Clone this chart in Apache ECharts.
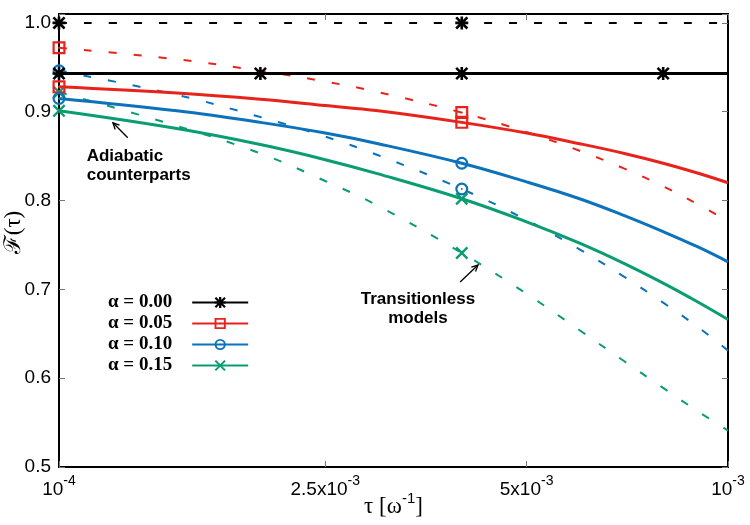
<!DOCTYPE html>
<html>
<head>
<meta charset="utf-8">
<script src="https://cdn.jsdelivr.net/npm/echarts@6/dist/echarts.min.js"></script>
<style>
  html, body { margin: 0; padding: 0; background: #fff; }
  #chart { width: 750px; height: 525px; }
</style>
</head>
<body>
<div id="chart"></div>
<script>
// tau samples [omega^-1]
const tau = [1e-4, 1.5e-4, 2e-4, 2.5e-4, 3e-4, 4e-4, 5e-4, 6e-4, 7e-4, 8e-4, 9e-4, 1e-3]

// fidelity, solid = full model, dashed = transitionless
const blackSolid = [0.943, 0.943, 0.943, 0.943, 0.943, 0.943, 0.943, 0.943, 0.943, 0.943, 0.943, 0.943]
const blackDashed = [1.0, 1.0, 1.0, 1.0, 1.0, 1.0, 1.0, 1.0, 1.0, 1.0, 1.0, 1.0]
const redSolid = [0.928, 0.921, 0.914, 0.907, 0.901, 0.888, 0.876, 0.864, 0.853, 0.842, 0.831, 0.820]
const redDashed = [0.972, 0.959, 0.946, 0.934, 0.922, 0.899, 0.877, 0.856, 0.836, 0.816, 0.796, 0.777]
const blueSolid = [0.915, 0.901, 0.888, 0.876, 0.864, 0.842, 0.821, 0.802, 0.783, 0.765, 0.748, 0.731]
const blueDashed = [0.946, 0.919, 0.894, 0.872, 0.851, 0.813, 0.778, 0.745, 0.714, 0.685, 0.658, 0.631]
const greenSolid = [0.901, 0.881, 0.863, 0.846, 0.830, 0.802, 0.776, 0.752, 0.729, 0.707, 0.686, 0.666]
const greenDashed = [0.922, 0.884, 0.853, 0.822, 0.794, 0.741, 0.695, 0.654, 0.619, 0.589, 0.563, 0.541]

// which samples carry a point marker
const blackMarks = [0, 2, 5, 9]
const colorMarks = [0, 5]

const legendNames = ['α = 0.00', 'α = 0.05', 'α = 0.10', 'α = 0.15']
const xTickValues = [1e-4, 2.5e-4, 5e-4, 1e-3]
const xTickLabels = [['10', '-4'], ['2.5x10', '-3'], ['5x10', '-3'], ['10', '-3']]

const notes = [
  { text: 'Adiabatic\ncounterparts', tau: 1.10e-4, f: 0.860, align: 'left' },
  { text: 'Transitionless\nmodels', tau: 3.44e-4, f: 0.700, align: 'center' }
]
const arrows = [
  { from: [1.267e-4, 0.8706], to: [1.204e-4, 0.8875] },
  { from: [3.977e-4, 0.7082], to: [4.23e-4, 0.7274] }
]

const SANS = "'Liberation Sans', Arial, sans-serif"
const SERIF = "'Liberation Serif', 'DejaVu Serif', serif"

const symAsterisk = 'path://M4,0H6V10H4Z M0,4H10V6H0Z M1.4,0L10,8.6L8.6,10L0,1.4Z M8.6,0L10,1.4L1.4,10L0,8.6Z'
const symSquare = 'path://M0,0H10V10H0Z M1.7,1.7V8.3H8.3V1.7Z M4.3,4.3H5.7V5.7H4.3Z'
const symCircle = 'path://M5,0A5,5,0,1,1,5,10A5,5,0,1,1,5,0Z M5,1.7A3.3,3.3,0,1,0,5,8.3A3.3,3.3,0,1,0,5,1.7Z M5,4.3A0.7,0.7,0,1,1,5,5.7A0.7,0.7,0,1,1,5,4.3Z'
const symCross = 'path://M1.3,0L10,8.7L8.7,10L0,1.3Z M8.7,0L10,1.3L1.3,10L0,8.7Z'

function makeSeries(name, values, color, symbol, marks, dashed) {
  return {
    name: name,
    type: 'line',
    smooth: 0.4,
    symbol: symbol,
    symbolSize: 13,
    itemStyle: { color: color, borderWidth: 0 },
    lineStyle: { color: color, width: dashed ? 2 : 3, type: dashed ? [8, 17] : 'solid' },
    z: dashed ? 2 : 3,
    data: values.map((v, i) => marks.includes(i) ? [tau[i], v] : { value: [tau[i], v], symbol: 'none' }),
    animation: false
  }
}

const chart = echarts.init(document.getElementById('chart'))

const tickStyle = { show: true, inside: true, length: 6, lineStyle: { color: '#777', width: 1 } }
const richX = {
  b: { fontFamily: SANS, fontSize: 19, color: '#000', lineHeight: 32 },
  s: { fontFamily: SANS, fontSize: 14, color: '#000', lineHeight: 12, verticalAlign: 'top' }
}

const option = {
  backgroundColor: '#fff',
  grid: {
    left: 59, right: 22, top: 14, bottom: 58,
    outerBoundsMode: 'none',
    show: true, borderColor: '#000', borderWidth: 2
  },
  legend: {
    data: legendNames,
    orient: 'vertical',
    left: 108,
    top: 293,
    padding: 0,
    align: 'right',
    itemWidth: 56,
    itemHeight: 14,
    itemGap: 2,
    textStyle: { fontFamily: SERIF, fontWeight: 'bold', fontSize: 19, lineHeight: 14, color: '#000', padding: [0, 15, 0, 0] }
  },
  xAxis: [{
    type: 'log',
    min: 1e-4,
    max: 1e-3,
    logBase: 10,
    axisLine: { show: true, lineStyle: { color: '#000', width: 2 } },
    axisTick: Object.assign({ customValues: xTickValues }, tickStyle),
    splitLine: { show: false },
    minorTick: { show: false },
    axisLabel: {
      customValues: xTickValues,
      margin: 7,
      formatter: function (v) {
        let best = 0
        xTickValues.forEach((t, i) => {
          if (Math.abs(Math.log10(t) - Math.log10(v)) < Math.abs(Math.log10(xTickValues[best]) - Math.log10(v))) best = i
        })
        return '{b|' + xTickLabels[best][0] + '}{s|' + xTickLabels[best][1] + '}'
      },
      rich: richX
    },
    name: '{t|τ [ω}{s|-1}{t|]}',
    nameLocation: 'middle',
    nameGap: 24,
    nameMoveOverlap: false,
    nameTextStyle: {
      rich: {
        t: { fontFamily: SERIF, fontSize: 23, color: '#000', lineHeight: 32 },
        s: { fontFamily: SANS, fontSize: 15, color: '#000', lineHeight: 14, verticalAlign: 'top' }
      }
    }
  }, {
    type: 'log',
    min: 1e-4,
    max: 1e-3,
    position: 'top',
    axisLine: { show: false },
    axisTick: Object.assign({ customValues: xTickValues }, tickStyle),
    axisLabel: { show: false },
    splitLine: { show: false }
  }],
  yAxis: [{
    type: 'value',
    min: 0.5,
    max: 1.01,
    interval: 0.1,
    axisLine: { show: true, lineStyle: { color: '#000', width: 2 } },
    axisTick: tickStyle,
    splitLine: { show: false },
    axisLabel: {
      margin: 8,
      fontFamily: SANS,
      fontSize: 19,
      color: '#000',
      formatter: v => Math.abs(v * 10 - Math.round(v * 10)) < 1e-6 ? v.toFixed(1) : ''
    },
    name: 'ℱ(τ)',
    nameLocation: 'middle',
    nameGap: 34,
    nameRotate: 90,
    nameMoveOverlap: false,
    nameTextStyle: { fontFamily: SERIF, fontSize: 23, color: '#000', padding: [0, 0, 0, 16] }
  }, {
    type: 'value',
    min: 0.5,
    max: 1.01,
    interval: 0.1,
    position: 'right',
    axisLine: { show: false },
    axisTick: tickStyle,
    axisLabel: { show: false },
    splitLine: { show: false }
  }],
  series: [
    makeSeries('d0', blackDashed, '#000000', symAsterisk, colorMarks, true),
    makeSeries('d1', redDashed, '#e8231c', symSquare, colorMarks, true),
    makeSeries('d2', blueDashed, '#0b72bb', symCircle, colorMarks, true),
    makeSeries('d3', greenDashed, '#0a9d72', symCross, colorMarks, true),
    makeSeries(legendNames[0], blackSolid, '#000000', symAsterisk, blackMarks, false),
    makeSeries(legendNames[1], redSolid, '#e8231c', symSquare, colorMarks, false),
    makeSeries(legendNames[2], blueSolid, '#0b72bb', symCircle, colorMarks, false),
    makeSeries(legendNames[3], greenSolid, '#0a9d72', symCross, colorMarks, false)
  ]
}

chart.setOption(option)

// annotations placed in data coordinates
const toPx = p => chart.convertToPixel({ xAxisIndex: 0, yAxisIndex: 0 }, p)
const graphics = []
notes.forEach(n => {
  const p = toPx([n.tau, n.f])
  graphics.push({
    type: 'text',
    x: p[0],
    y: p[1],
    z: 10,
    style: {
      text: n.text,
      font: 'bold 17px ' + SANS,
      fill: '#000',
      align: n.align,
      verticalAlign: 'top',
      lineHeight: 19
    }
  })
})
arrows.forEach(a => {
  const p0 = toPx(a.from)
  const p1 = toPx(a.to)
  const ang = Math.atan2(p1[1] - p0[1], p1[0] - p0[0])
  const hl = 7
  const h1 = [p1[0] - hl * Math.cos(ang - 0.45), p1[1] - hl * Math.sin(ang - 0.45)]
  const h2 = [p1[0] - hl * Math.cos(ang + 0.45), p1[1] - hl * Math.sin(ang + 0.45)]
  graphics.push({
    type: 'line', z: 10,
    shape: { x1: p0[0], y1: p0[1], x2: p1[0], y2: p1[1] },
    style: { stroke: '#000', lineWidth: 1.3 }
  })
  graphics.push({
    type: 'polyline', z: 10,
    shape: { points: [h1, p1, h2] },
    style: { stroke: '#000', lineWidth: 1.3, fill: null }
  })
})
chart.setOption({ graphic: graphics })
</script>
</body>
</html>
